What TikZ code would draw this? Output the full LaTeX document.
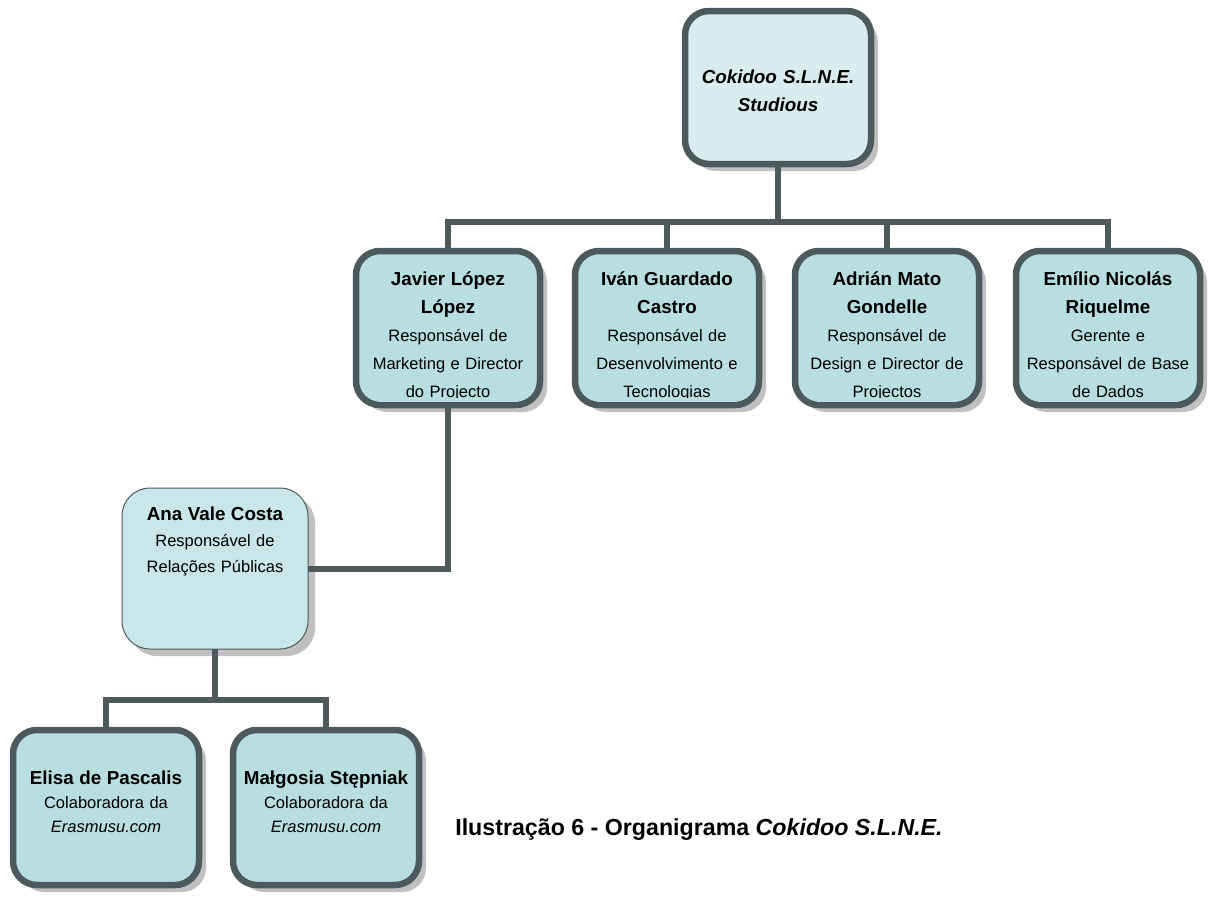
\documentclass[tikz,border=0pt]{standalone}
\usepackage{fontspec}
\setmainfont{Liberation Sans}
\usetikzlibrary{shadows}

\definecolor{rimgrey}{RGB}{77,90,92}
\definecolor{boxcyan}{RGB}{184,222,226}
\definecolor{topcyan}{RGB}{217,236,240}
\definecolor{anacyan}{RGB}{201,230,234}
\definecolor{shadowgrey}{RGB}{192,192,192}

\newcommand{\nm}[1]{{\fontsize{18.8}{28}\selectfont\bfseries #1}}

\begin{document}
\begin{tikzpicture}[x=1pt,y=-1pt,
    every node/.style={outer sep=0pt},
    card/.style={rectangle,rounded corners=24pt,draw=rimgrey,line width=6.5pt,fill=boxcyan,
        inner sep=0pt,align=center,text height=0pt,
        drop shadow={shadow xshift=7pt,shadow yshift=-7pt,fill=shadowgrey,opacity=1},
        font=\fontsize{16.5}{28}\selectfont},
    chief/.style={card,fill=topcyan,minimum width=186pt,minimum height=153pt,text width=180pt,text depth=8pt,
        font=\fontsize{18.8}{28}\selectfont\bfseries\itshape},
    head/.style={card,minimum width=184pt,minimum height=154pt,text width=180pt,text depth=86pt},
    aide/.style={card,minimum width=186pt,minimum height=155pt,text width=180pt,text depth=46pt,
        font=\fontsize{16.5}{24}\selectfont},
    pr/.style={rectangle,rounded corners=28pt,draw=rimgrey,line width=1pt,fill=anacyan,
        inner sep=0pt,align=center,text height=0pt,text depth=97pt,
        minimum width=186pt,minimum height=161pt,text width=180pt,
        drop shadow={shadow xshift=7pt,shadow yshift=-7pt,fill=shadowgrey,opacity=1},
        font=\fontsize{16.5}{26}\selectfont},
    link/.style={draw=rimgrey,line width=6pt}]

    \useasboundingbox (0,0) rectangle (1208,897);

    \node[chief]    (top)      at (778, 87.5)   {Cokidoo S.L.N.E.\\Studious};
    \node[head]     (javier)   at (448, 328)    {\nm{Javier López}\\\nm{López}\\Responsável de\\Marketing e Director\\do Projecto};
    \node[head]     (ivan)     at (667, 328)    {\nm{Iván Guardado}\\\nm{Castro}\\Responsável de\\Desenvolvimento e\\Tecnologias};
    \node[head]     (adrian)   at (887, 328)    {\nm{Adrián Mato}\\\nm{Gondelle}\\Responsável de\\Design e Director de\\Projectos};
    \node[head]     (emilio)   at (1108, 328)   {\nm{Emílio Nicolás}\\\nm{Riquelme}\\Gerente e\\Responsável de Base\\de Dados};
    \node[pr]       (ana)      at (215, 568.5)  {\nm{Ana Vale Costa}\\Responsável de\\Relações Públicas};
    \node[aide]     (elisa)    at (106, 807.5)  {\nm{Elisa de Pascalis}\\Colaboradora da\\\textit{Erasmusu.com}};
    \node[aide]     (malgosia) at (326, 807.5)  {\nm{Małgosia Stępniak}\\Colaboradora da\\\textit{Erasmusu.com}};

    \node[anchor=base west,font=\fontsize{23.2}{26}\selectfont\bfseries] (caption) at (452, 835)
        {Ilustração 6 - Organigrama \textit{Cokidoo S.L.N.E.}};

    \foreach \n in {javier,ivan,adrian,emilio}
        \fill[boxcyan] ([xshift=22pt,yshift=3pt]\n.south west) rectangle ([xshift=-22pt,yshift=7pt]\n.south east);

    \coordinate (bus)   at (778, 222);
    \coordinate (split) at (215, 700);

    \draw[link] (top) -- (bus) -| (javier);
    \draw[link] (bus) -| (ivan);
    \draw[link] (bus) -| (adrian);
    \draw[link] (bus) -| (emilio);
    \draw[link] (javier) |- (ana);
    \draw[link] (ana) -- (split) -| (elisa);
    \draw[link] (split) -| (malgosia);
\end{tikzpicture}
\end{document}
